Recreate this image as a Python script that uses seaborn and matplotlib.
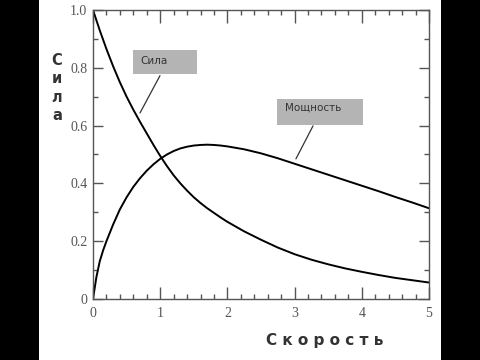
import matplotlib
matplotlib.use("Agg")
import matplotlib.pyplot as plt
from matplotlib.patches import Rectangle
from matplotlib.ticker import MultipleLocator
import seaborn as sns
import pandas as pd

# Data
speed_force = [0, 0.1, 0.2, 0.3, 0.4, 0.5, 0.6, 0.7, 0.8, 0.9, 1.0, 1.1, 1.2,
               1.3, 1.4, 1.5, 1.6, 1.7, 1.8, 1.9, 2.0, 2.25, 2.5, 2.75, 3.0,
               3.25, 3.5, 3.75, 4.0, 4.25, 4.5, 4.75, 5.0]
force = [1.0, 0.93, 0.865, 0.805, 0.75, 0.70, 0.655, 0.613, 0.573, 0.533,
         0.495, 0.46, 0.428, 0.40, 0.375, 0.352, 0.332, 0.314, 0.298, 0.282,
         0.267, 0.234, 0.205, 0.178, 0.155, 0.136, 0.12, 0.106, 0.094, 0.083,
         0.073, 0.065, 0.057]
speed_power = [0, 0.05, 0.1, 0.15, 0.2, 0.3, 0.4, 0.5, 0.6, 0.7, 0.8, 0.9,
               1.0, 1.1, 1.2, 1.3, 1.4, 1.5, 1.6, 1.7, 1.8, 1.9, 2.0, 2.25,
               2.5, 2.75, 3.0, 3.25, 3.5, 3.75, 4.0, 4.25, 4.5, 4.75, 5.0]
power = [0, 0.075, 0.13, 0.168, 0.20, 0.258, 0.31, 0.352, 0.388, 0.418, 0.444,
         0.466, 0.485, 0.50, 0.512, 0.521, 0.527, 0.531, 0.533, 0.534, 0.533,
         0.531, 0.528, 0.518, 0.504, 0.487, 0.468, 0.449, 0.43, 0.411, 0.392,
         0.373, 0.353, 0.334, 0.314]
force_label = "Сила"
power_label = "Мощность"
x_label = "Скорость"
y_label = "Сила"
x_ticks = [0, 1, 2, 3, 4, 5]
y_ticks = [0, 0.2, 0.4, 0.6, 0.8, 1.0]
y_tick_labels = ["0", "0.2", "0.4", "0.6", "0.8", "1.0"]

df_force = pd.DataFrame({"v": speed_force, "F": force})
df_power = pd.DataFrame({"v": speed_power, "P": power})

sns.set_theme(style="white")
plt.rcParams["font.family"] = ["DejaVu Sans"]

fig = plt.figure(figsize=(4.8, 3.6), dpi=100)
fig.patch.set_facecolor("white")
fig.patches.append(Rectangle((0, 0), 39 / 480, 1, transform=fig.transFigure,
                             facecolor="black", edgecolor="none", zorder=0))
fig.patches.append(Rectangle((441 / 480, 0), 39 / 480, 1, transform=fig.transFigure,
                             facecolor="black", edgecolor="none", zorder=0))

ax = fig.add_axes([93 / 480, 61 / 360, 336 / 480, 289 / 360])
ax.set_facecolor("white")

sns.lineplot(data=df_force, x="v", y="F", ax=ax, color="black", lw=1.4)
sns.lineplot(data=df_power, x="v", y="P", ax=ax, color="black", lw=1.4)

ax.set_xlim(0, 5)
ax.set_ylim(0, 1.0)
ax.set_xticks(x_ticks)
ax.set_xticklabels([str(t) for t in x_ticks])
ax.set_yticks(y_ticks)
ax.set_yticklabels(y_tick_labels)
ax.xaxis.set_minor_locator(MultipleLocator(0.2))
ax.yaxis.set_minor_locator(MultipleLocator(0.1))
ax.set_xlabel("")
ax.set_ylabel("")

for s in ax.spines.values():
    s.set_visible(True)
    s.set_color("#555555")
    s.set_linewidth(1.0)

ax.tick_params(axis="x", which="major", direction="in", length=9, width=1,
               color="#555555", top=True, bottom=True, pad=6)
ax.tick_params(axis="x", which="minor", direction="in", length=3.5, width=1,
               color="#555555", top=True, bottom=True)
ax.tick_params(axis="y", which="major", direction="in", length=7, width=1,
               color="#555555", left=True, right=True, pad=4)
ax.tick_params(axis="y", which="minor", direction="in", length=3.5, width=1,
               color="#555555", left=True, right=True)
for lab in ax.get_xticklabels() + ax.get_yticklabels():
    lab.set_fontfamily("Liberation Serif")
    lab.set_fontsize(10)
    lab.set_color("#555555")

# annotation boxes
ax.add_patch(Rectangle((0.595, 0.780), 0.953, 0.083, facecolor="#b4b4b4",
                       edgecolor="none", zorder=3))
ax.text(0.70, 0.822, force_label, fontsize=7.5, color="#333333", va="center",
        ha="left", zorder=4)
ax.plot([0.997, 0.70], [0.773, 0.644], color="#333333", lw=0.9)

ax.add_patch(Rectangle((2.738, 0.603), 1.28, 0.090, facecolor="#b4b4b4",
                       edgecolor="none", zorder=3))
ax.text(2.857, 0.662, power_label, fontsize=7.5, color="#333333", va="center",
        ha="left", zorder=4)
ax.plot([3.274, 3.02], [0.599, 0.485], color="#333333", lw=0.9)

# axis titles
fig.text(57 / 480, 1 - 88 / 360, "\n".join(y_label), ha="center", va="center",
         fontsize=10.5, fontweight="bold", color="#333333", linespacing=1.3)
fig.text(325 / 480, 1 - 340 / 360, " ".join(x_label), ha="center", va="center",
         fontsize=11, fontweight="bold", color="#333333")

fig.savefig("out.png", dpi=100, facecolor="white")
